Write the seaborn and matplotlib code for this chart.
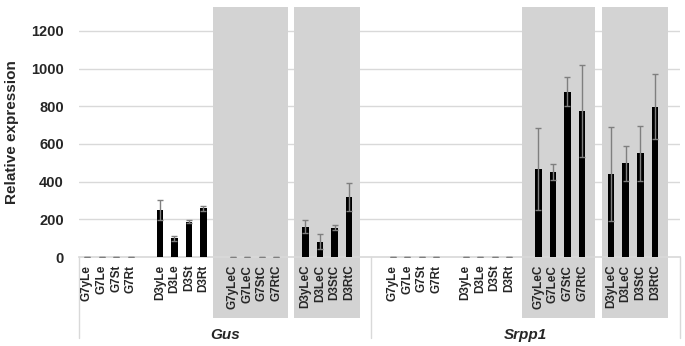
import numpy as np
import pandas as pd
import seaborn as sns
import matplotlib.pyplot as plt
from matplotlib.patches import Rectangle
from matplotlib.transforms import blended_transform_factory

# category labels, one block of 16 per gene
tissues = ["G7yLe", "G7Le", "G7St", "G7Rt",
           "D3yLe", "D3Le", "D3St", "D3Rt",
           "G7yLeC", "G7LeC", "G7StC", "G7RtC",
           "D3yLeC", "D3LeC", "D3StC", "D3RtC"]
genes = ["Gus", "Srpp1"]

gus_mean = [0, 0, 0, 0, 250, 99, 188, 258, 0, 0, 0, 0, 161, 81, 156, 320]
gus_err = [0, 0, 0, 0, 53, 14, 8, 14, 0, 0, 0, 0, 35, 39, 14, 75]
srpp1_mean = [0, 0, 0, 0, 0, 0, 0, 0, 467, 451, 878, 775, 439, 497, 550, 798]
srpp1_err = [0, 0, 0, 0, 0, 0, 0, 0, 220, 41, 77, 245, 250, 93, 146, 174]

# slot positions: groups of 4 with one empty slot between, 2 empty between genes
pos = []
for g in range(2):
    for k in range(4):
        for j in range(4):
            pos.append(g * 21 + k * 5 + j)

df = pd.DataFrame({
    "pos": pos,
    "label": tissues * 2,
    "gene": np.repeat(genes, 16),
    "value": gus_mean + srpp1_mean,
    "err": gus_err + srpp1_err,
})

sns.set_theme(style="white")
plt.rcParams["font.family"] = ["Liberation Sans", "DejaVu Sans"]

fig = plt.figure(figsize=(6.85, 3.46), dpi=100)
ax = fig.add_axes([0.1153, 0.2572, 0.8774, 0.7226])

x0, x1 = -0.55, 40.73
ax.set_xlim(x0, x1)
ax.set_ylim(0, 1327)

for yv in range(200, 1201, 200):
    ax.axhline(yv, color="#d9d9d9", lw=1.0, zorder=0)

# shaded "C" blocks, extending into the label area
trans = blended_transform_factory(ax.transData, ax.transAxes)
panels = [(8.65, 13.8), (14.2, 18.75), (29.9, 34.9), (35.4, 39.9)]
for a, b in panels:
    ax.add_patch(Rectangle((a, -0.244), b - a, 1.244, transform=trans,
                           facecolor="#d3d3d3", edgecolor="none",
                           zorder=0.2, clip_on=False))

sns.barplot(data=df, x="pos", y="value", native_scale=True, width=0.45,
            color="black", saturation=1, errorbar=None, linewidth=0,
            ax=ax, zorder=3)
ax.errorbar(df["pos"], df["value"], yerr=df["err"], fmt="none",
            ecolor="#7f7f7f", elinewidth=1.0, capsize=2.5, capthick=1.0,
            zorder=4)

for s in ["top", "right", "left"]:
    ax.spines[s].set_visible(False)
ax.spines["bottom"].set_color("#d9d9d9")
ax.spines["bottom"].set_zorder(2)

ax.set_yticks(range(0, 1201, 200))
ax.set_yticklabels([str(v) for v in range(0, 1201, 200)],
                   fontsize=10.5, fontweight="bold", color="#262626")
ax.tick_params(axis="y", length=0, pad=11)
ax.set_xticks(df["pos"])
ax.set_xticklabels(df["label"], rotation=90, fontsize=8.5,
                   fontweight="bold", color="#262626")
ax.tick_params(axis="x", length=0, pad=5.5)
ax.xaxis.set_zorder(5)
ax.yaxis.set_zorder(5)
ax.set_xlabel("")
ax.set_ylabel("Relative expression", fontsize=11, fontweight="bold",
              color="#262626")
ax.yaxis.set_label_coords(-0.1, 0.5)

# outer category boxes and gene labels
for xv in [x0, 19.5, x1]:
    ax.plot([xv, xv], [0, -0.325], transform=trans, color="#d9d9d9",
            lw=1.0, clip_on=False, zorder=2)
for gname, cx in zip(genes, [(x0 + 19.5) / 2, (19.5 + x1) / 2]):
    ax.text(cx, -0.31, gname, transform=trans, ha="center", va="center",
            fontsize=11, fontweight="bold", fontstyle="italic",
            color="#262626")

fig.savefig("out.png", dpi=100)
plt.close(fig)
